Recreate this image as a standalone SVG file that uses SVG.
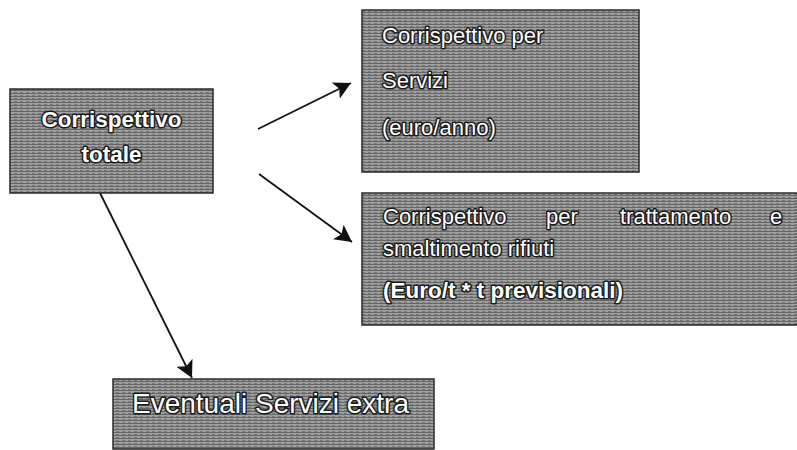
<svg xmlns="http://www.w3.org/2000/svg" width="797" height="450" viewBox="0 0 797 450">
  <defs>
    <pattern id="scan" width="6" height="3" patternUnits="userSpaceOnUse">
      <rect width="6" height="3" fill="#a0a0a0"/>
      <rect y="0" width="6" height="1" fill="#666666"/>
      <rect x="2" y="2" width="3" height="1" fill="#787878"/>
    </pattern>
    <marker id="arrow" markerUnits="userSpaceOnUse" markerWidth="20" markerHeight="18" refX="17" refY="9" orient="auto">
      <path d="M0,0 L17,9 L0,18 L4,9 Z" fill="#111"/>
    </marker>
  </defs>
  <style>
    .box { fill: url(#scan); stroke: #2a2a2a; stroke-width: 1.5; }
    .t { font-family: "Liberation Sans", Arial, sans-serif; fill: #ffffff; stroke: #1a1a1a; stroke-width: 3; paint-order: stroke; stroke-linejoin: round; }
    .b { font-weight: bold; }
    .conn { stroke: #111; stroke-width: 1.8; fill: none; marker-end: url(#arrow); }
  </style>
  <rect width="797" height="450" fill="#ffffff"/>

  <g id="connectors">
    <line class="conn" x1="258" y1="129" x2="351" y2="83"/>
    <line class="conn" x1="259" y1="174" x2="352" y2="242"/>
    <line class="conn" x1="100" y1="193" x2="192" y2="378"/>
  </g>

  <g id="node-totale">
    <rect class="box" x="10" y="89" width="203" height="104"/>
    <text class="t b" x="111.5" y="127" font-size="22.5" text-anchor="middle">Corrispettivo</text>
    <text class="t b" x="111.5" y="162" font-size="22.5" text-anchor="middle">totale</text>
  </g>

  <g id="node-servizi">
    <rect class="box" x="362" y="10" width="277" height="162"/>
    <text class="t" x="382" y="43" font-size="22">Corrispettivo per</text>
    <text class="t" x="382" y="88" font-size="22">Servizi</text>
    <text class="t" x="382" y="135" font-size="22">(euro/anno)</text>
  </g>

  <g id="node-trattamento">
    <rect class="box" x="362" y="193" width="440" height="132"/>
    <text class="t" font-size="22" y="224"><tspan x="383">Corrispettivo</tspan><tspan x="546">per</tspan><tspan x="620">trattamento</tspan><tspan x="770">e</tspan></text>
    <text class="t" x="383" y="256" font-size="22">smaltimento rifiuti</text>
    <text class="t b" x="383" y="298" font-size="22.5">(Euro/t * t previsionali)</text>
  </g>

  <g id="node-extra">
    <rect class="box" x="113" y="379" width="321" height="70"/>
    <text class="t" x="132" y="413" font-size="28">Eventuali Servizi extra</text>
  </g>
</svg>
